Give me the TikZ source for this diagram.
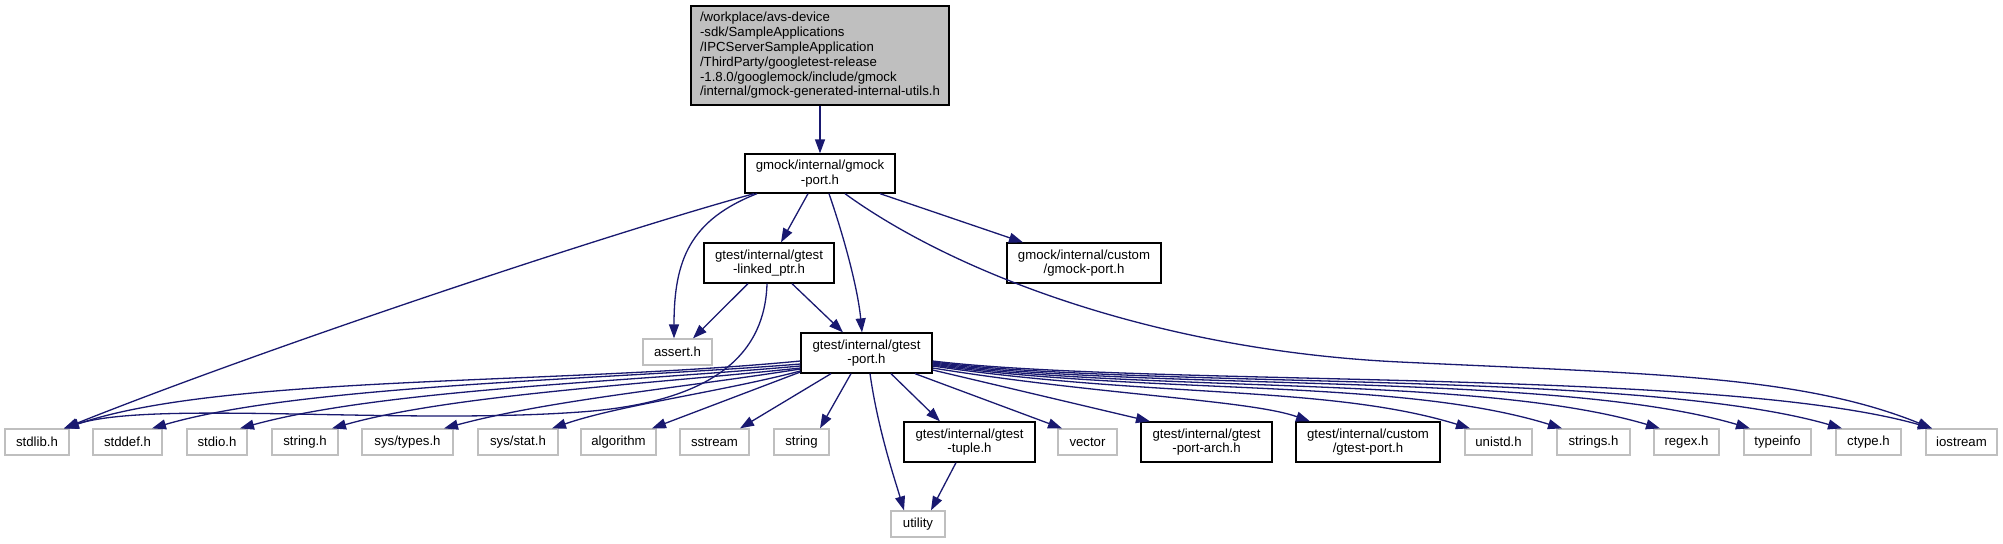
\documentclass[tikz,border=0pt]{standalone}
\usepackage{fontspec}
\setmainfont{Liberation Sans}
\usetikzlibrary{arrows.meta,calc}
\definecolor{edgeblue}{HTML}{191970}
\definecolor{greyseventyfive}{HTML}{BFBFBF}
\begin{document}
\begin{tikzpicture}[x=0.5pt,y=-0.5pt,
  font=\fontsize{6.6pt}{7.4pt}\selectfont,
  box/.style={draw=black, line width=0.65pt, inner sep=0pt, align=center, minimum height=20pt},
  gbox/.style={draw=greyseventyfive, line width=0.65pt, inner sep=0pt, align=center, minimum height=13pt},
  rootbox/.style={draw=black, fill=greyseventyfive, line width=0.65pt, inner sep=0pt, align=left},
  edge/.style={draw=edgeblue, line width=0.65pt, -{Triangle[length=7pt,width=5pt]}},
]
\useasboundingbox (0,0) rectangle (2003,543);
\fill[white] (0,0) rectangle (2003,543);

% nodes
\node[rootbox, minimum width=129pt, minimum height=49.5pt] (root) at (820,55.5)
  {/workplace/avs-device\\-sdk/SampleApplications\\/IPCServerSampleApplication\\/ThirdParty/googletest-release\\-1.8.0/googlemock/include/gmock\\/internal/gmock-generated-internal-utils.h};
\node[box, minimum width=75pt, minimum height=19.5pt] (gmp) at (820,173.5) {gmock/internal/gmock\\-port.h};
\node[box, minimum width=65pt] (lp) at (769,263) {gtest/internal/gtest\\-linked\_ptr.h};
\node[box, minimum width=77pt] (gmc) at (1084,263) {gmock/internal/custom\\/gmock-port.h};
\node[gbox, minimum width=34.5pt] (assert) at (677.5,352) {assert.h};
\node[box, minimum width=65.5pt] (gtp) at (866.5,353) {gtest/internal/gtest\\-port.h};

\node[gbox, minimum width=32pt] (stdlib) at (37,442) {stdlib.h};
\node[gbox, minimum width=34.5pt] (stddef) at (127.5,442) {stddef.h};
\node[gbox, minimum width=30pt] (stdio) at (217,442) {stdio.h};
\node[gbox, minimum width=33pt] (stringh) at (305,442) {string.h};
\node[gbox, minimum width=45.5pt] (systypes) at (407.5,442) {sys/types.h};
\node[gbox, minimum width=40pt] (sysstat) at (518,442) {sys/stat.h};
\node[gbox, minimum width=37.5pt] (algorithm) at (618.5,442) {algorithm};
\node[gbox, minimum width=34.5pt] (sstream) at (714.5,442) {sstream};
\node[gbox, minimum width=27.5pt] (string) at (801.5,442) {string};
\node[box, minimum width=65.5pt] (tuple) at (969.5,442) {gtest/internal/gtest\\-tuple.h};
\node[gbox, minimum width=29.5pt] (vector) at (1087.5,442) {vector};
\node[box, minimum width=65.5pt] (portarch) at (1206.5,442) {gtest/internal/gtest\\-port-arch.h};
\node[box, minimum width=72pt] (gtc) at (1368,442) {gtest/internal/custom\\/gtest-port.h};
\node[gbox, minimum width=33.5pt] (unistd) at (1498.5,442) {unistd.h};
\node[gbox, minimum width=36.5pt] (strings) at (1593.5,442) {strings.h};
\node[gbox, minimum width=32.5pt] (regex) at (1686.5,442) {regex.h};
\node[gbox, minimum width=33.5pt] (typeinfo) at (1777.5,442) {typeinfo};
\node[gbox, minimum width=32.5pt] (ctype) at (1868.5,442) {ctype.h};
\node[gbox, minimum width=35.5pt] (iostream) at (1961.5,442) {iostream};
\node[gbox, minimum width=27pt] (utility) at (918,524) {utility};

% edges
\draw[edge] (root.south) -- (gmp.north);
\draw[edge] ($(gmp.south)+(-66,0)$) .. controls (600,236) and (260,350) .. ($(stdlib.north)+(27,0)$);
\draw[edge] ($(gmp.south)+(-63,0)$) .. controls (690,220) and (674,260) .. ($(assert.north)+(-3.5,0)$);
\draw[edge] ($(gmp.south)+(-12,0)$) -- ($(lp.north)+(12,0)$);
\draw[edge] ($(gmp.south)+(9,0)$) .. controls (845,240) and (858,290) .. ($(gtp.north)+(-4.5,0)$);
\draw[edge] ($(gmp.south)+(25,0)$) .. controls (950,270) and (1150,350) .. (1400,362)
  .. controls (1650,374) and (1800,375) .. ($(iostream.north)+(-29.5,0)$);
\draw[edge] ($(gmp.south)+(60,0)$) -- ($(gmc.north)+(-61,0)$);

\draw[edge] ($(lp.south)+(-21,0)$) -- ($(assert.north)+(15.5,0)$);
\draw[edge] ($(lp.south)+(23,0)$) -- ($(gtp.north)+(-23.5,0)$);
\draw[edge] ($(lp.south)+(-2,0)$) .. controls (765,350) and (720,402) .. (580,412)
  .. controls (400,425) and (150,400) .. ($(stdlib.north)+(27,0)$);

\draw[edge] ($(gtp.west)+(0,8)$) .. controls (550,385) and (220,375) .. ($(stdlib.north)+(28,0)$);
\draw[edge] ($(gtp.west)+(0,11)$) .. controls (600,380) and (300,385) .. ($(stddef.north)+(24.5,0)$);
\draw[edge] ($(gtp.west)+(0,13)$) .. controls (620,382) and (380,390) .. ($(stdio.north)+(23,0)$);
\draw[edge] ($(gtp.west)+(0,15)$) .. controls (650,384) and (450,395) .. ($(stringh.north)+(27,0)$);
\draw[edge] ($(gtp.west)+(0,16)$) .. controls (680,388) and (550,400) .. ($(systypes.north)+(36.5,0)$);
\draw[edge] ($(gtp.west)+(0,18)$) .. controls (720,392) and (620,405) .. ($(sysstat.north)+(34,0)$);
\draw[edge] ($(gtp.west)+(0,19)$) -- ($(algorithm.north)+(33.5,0)$);
\draw[edge] ($(gtp.south)+(-35.5,0)$) -- ($(sstream.north)+(25.5,0)$);
\draw[edge] ($(gtp.south)+(-15.5,0)$) -- ($(string.north)+(18.5,0)$);
\draw[edge] ($(gtp.south)+(3.5,0)$) .. controls (878,430) and (895,480) .. ($(utility.north)+(-14,0)$);
\draw[edge] ($(gtp.south)+(24.5,0)$) -- ($(tuple.north)+(-29.5,0)$);
\draw[edge] ($(gtp.south)+(48.5,0)$) -- ($(vector.north)+(-25.5,0)$);
\draw[edge] ($(gtp.east)+(0,17)$) -- ($(portarch.north)+(-56.5,0)$);
\draw[edge] ($(gtp.east)+(0,15)$) .. controls (1100,395) and (1250,400) .. ($(gtc.north)+(-58,0)$);
\draw[edge] ($(gtp.east)+(0,13)$) .. controls (1150,398) and (1330,385) .. ($(unistd.north)+(-28.5,0)$);
\draw[edge] ($(gtp.east)+(0,12)$) .. controls (1150,395) and (1400,378) .. ($(strings.north)+(-31.5,0)$);
\draw[edge] ($(gtp.east)+(0,11)$) .. controls (1150,393) and (1480,375) .. ($(regex.north)+(-26.5,0)$);
\draw[edge] ($(gtp.east)+(0,10)$) .. controls (1150,391) and (1560,372) .. ($(typeinfo.north)+(-27.5,0)$);
\draw[edge] ($(gtp.east)+(0,9)$) .. controls (1150,389) and (1640,370) .. ($(ctype.north)+(-26.5,0)$);
\draw[edge] ($(gtp.east)+(0,8)$) .. controls (1150,387) and (1720,368) .. ($(iostream.north)+(-29.5,0)$);

\draw[edge] ($(tuple.south)+(-13.5,0)$) -- ($(utility.north)+(13,0)$);
\end{tikzpicture}
\end{document}
